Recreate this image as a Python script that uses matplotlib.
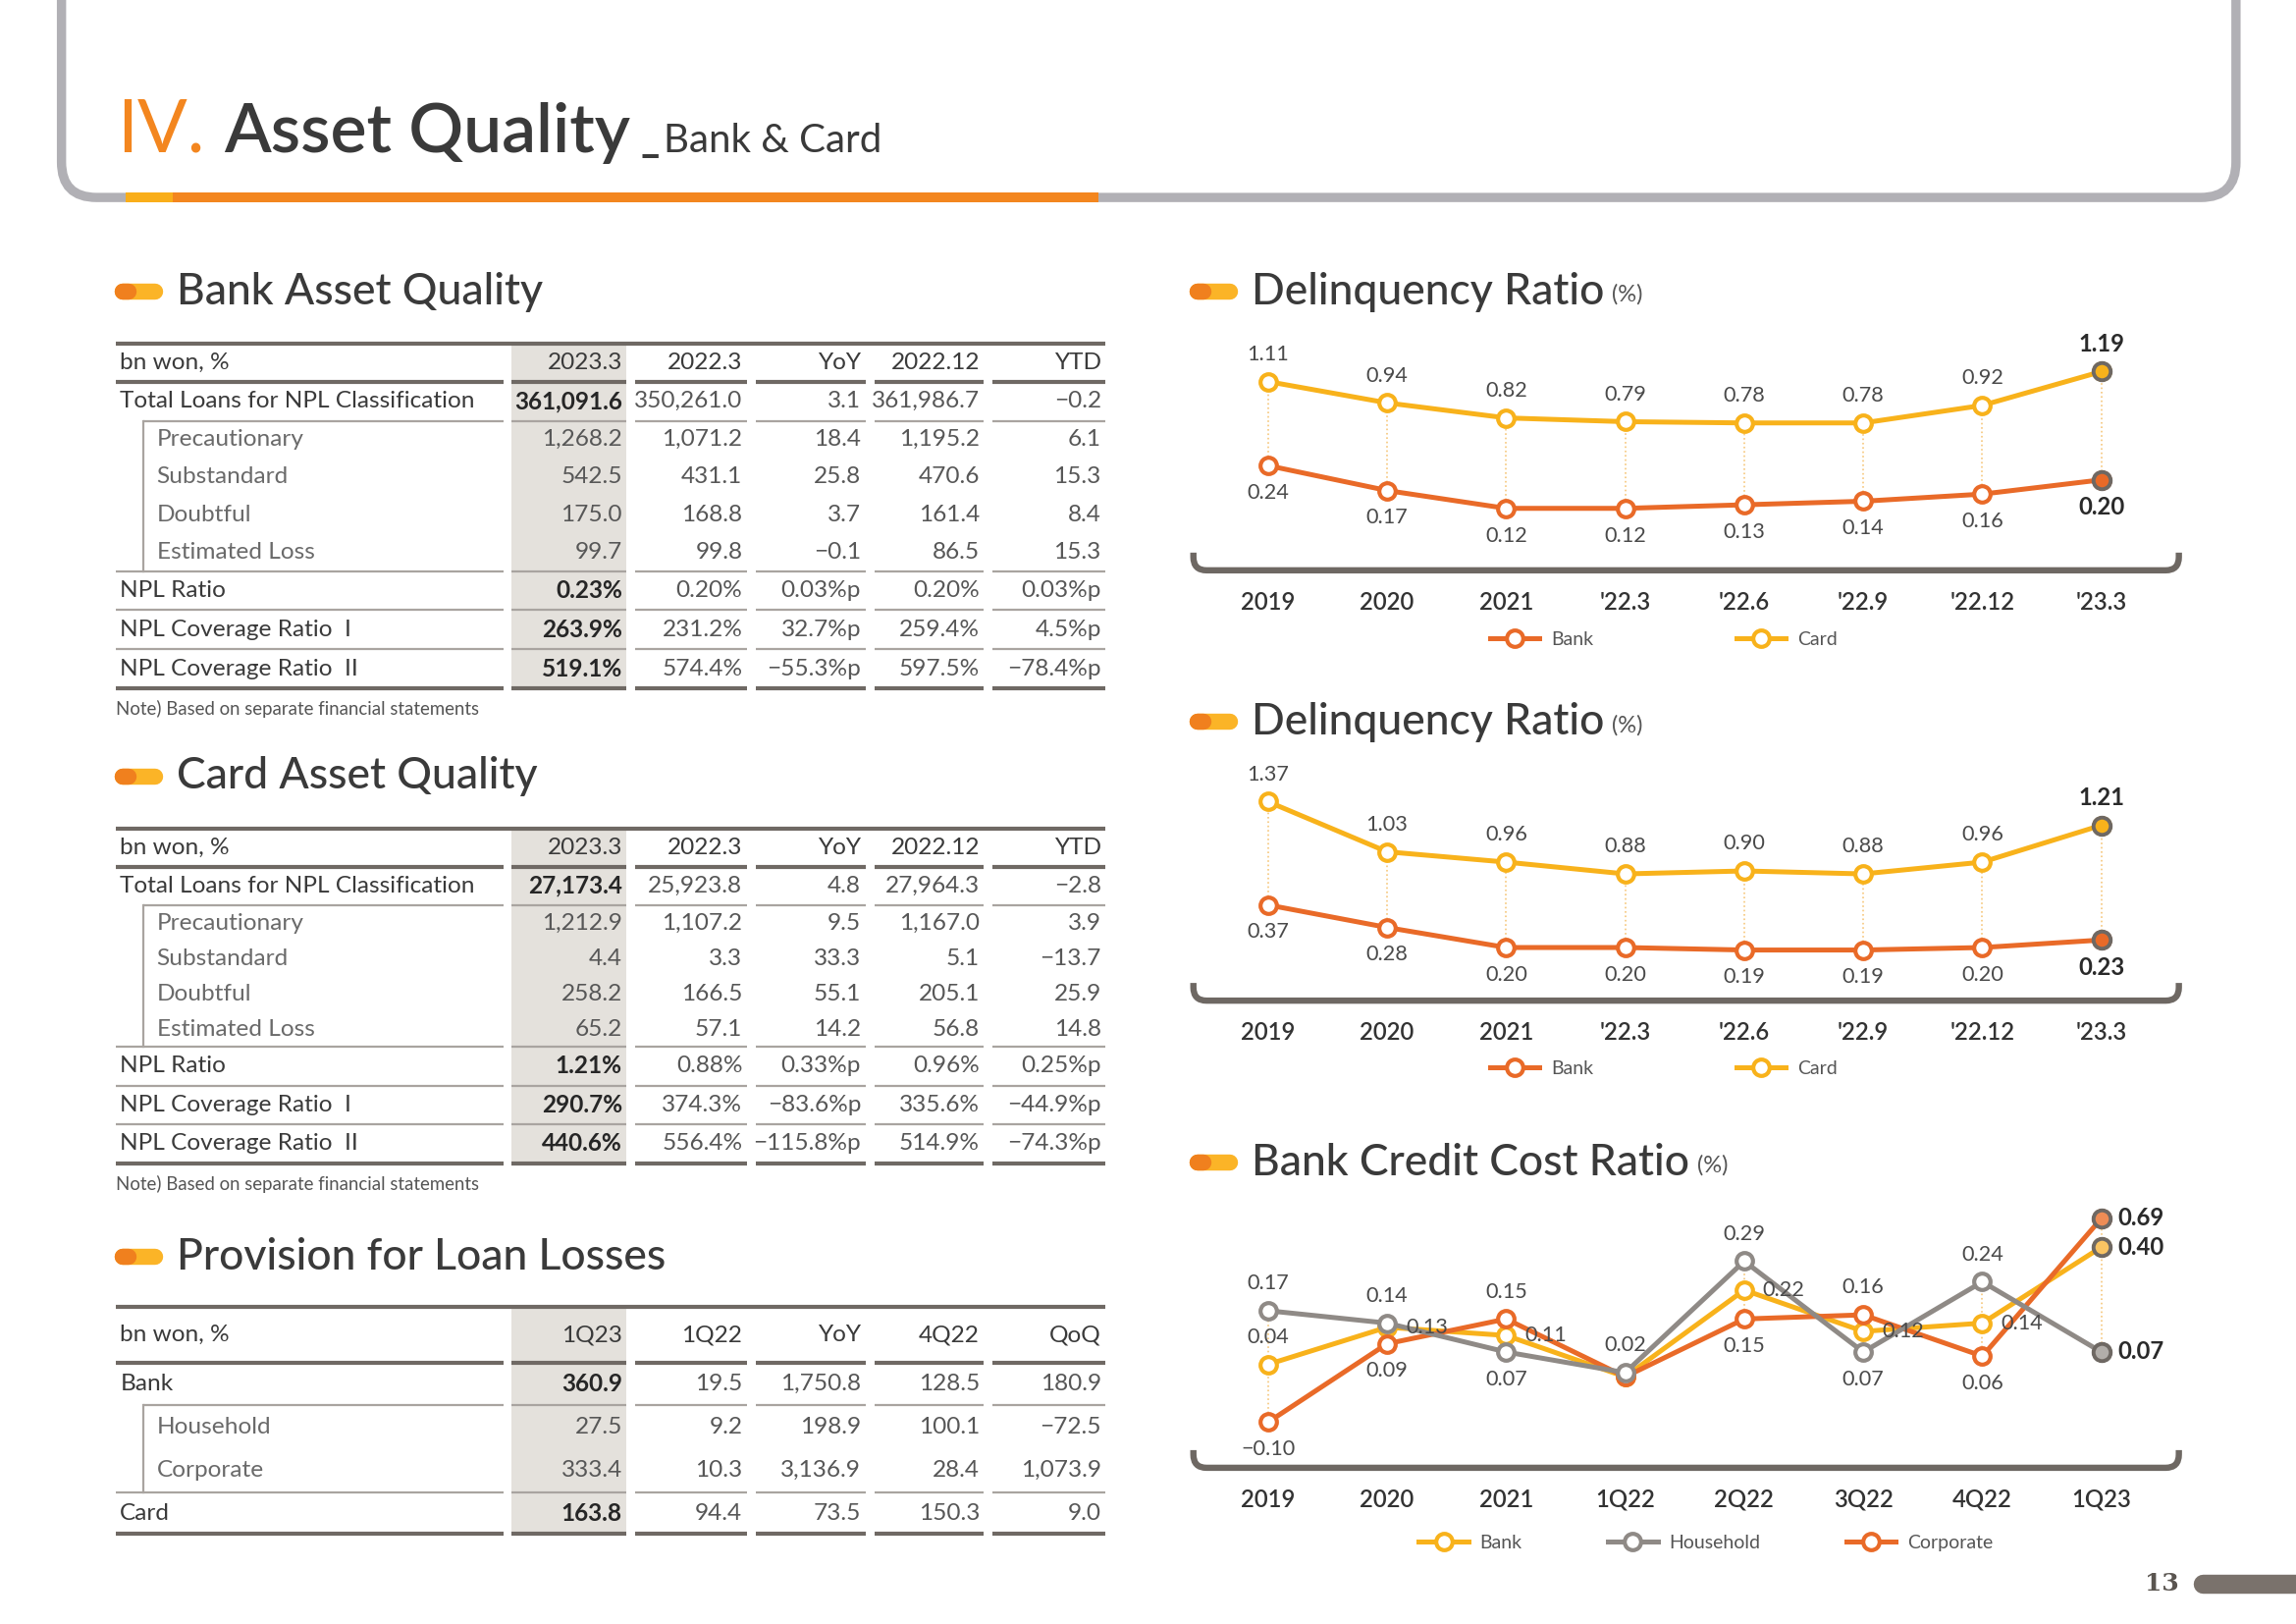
import numpy as np
import matplotlib
matplotlib.use('Agg')
import matplotlib.pyplot as plt
from matplotlib.path import Path
from matplotlib.patches import PathPatch, Rectangle

plt.rcParams['font.family'] = ['Lato', 'DejaVu Sans']

# ---------------- data ----------------
tbl_head_bank = ['bn won, %', '2023.3', '2022.3', 'YoY', '2022.12', 'YTD']
npl_labels = ['Total Loans for NPL Classification', 'Precautionary', 'Substandard', 'Doubtful',
              'Estimated Loss', 'NPL Ratio', 'NPL Coverage Ratio  I', 'NPL Coverage Ratio  II']
npl_kinds = ['main', 'sub', 'sub', 'sub', 'sub', 'main', 'main', 'main']

bank_2023_3 = ['361,091.6', '1,268.2', '542.5', '175.0', '99.7', '0.23%', '263.9%', '519.1%']
bank_2022_3 = ['350,261.0', '1,071.2', '431.1', '168.8', '99.8', '0.20%', '231.2%', '574.4%']
bank_yoy = ['3.1', '18.4', '25.8', '3.7', '\u22120.1', '0.03%p', '32.7%p', '\u221255.3%p']
bank_2022_12 = ['361,986.7', '1,195.2', '470.6', '161.4', '86.5', '0.20%', '259.4%', '597.5%']
bank_ytd = ['\u22120.2', '6.1', '15.3', '8.4', '15.3', '0.03%p', '4.5%p', '\u221278.4%p']

card_2023_3 = ['27,173.4', '1,212.9', '4.4', '258.2', '65.2', '1.21%', '290.7%', '440.6%']
card_2022_3 = ['25,923.8', '1,107.2', '3.3', '166.5', '57.1', '0.88%', '374.3%', '556.4%']
card_yoy = ['4.8', '9.5', '33.3', '55.1', '14.2', '0.33%p', '\u221283.6%p', '\u2212115.8%p']
card_2022_12 = ['27,964.3', '1,167.0', '5.1', '205.1', '56.8', '0.96%', '335.6%', '514.9%']
card_ytd = ['\u22122.8', '3.9', '\u221213.7', '25.9', '14.8', '0.25%p', '\u221244.9%p', '\u221274.3%p']

tbl_head_prov = ['bn won, %', '1Q23', '1Q22', 'YoY', '4Q22', 'QoQ']
prov_labels = ['Bank', 'Household', 'Corporate', 'Card']
prov_kinds = ['main', 'sub', 'sub', 'main']
prov_1q23 = ['360.9', '27.5', '333.4', '163.8']
prov_1q22 = ['19.5', '9.2', '10.3', '94.4']
prov_yoy = ['1,750.8', '198.9', '3,136.9', '73.5']
prov_4q22 = ['128.5', '100.1', '28.4', '150.3']
prov_qoq = ['180.9', '\u221272.5', '1,073.9', '9.0']

delinq_periods = ['2019', '2020', '2021', "'22.3", "'22.6", "'22.9", "'22.12", "'23.3"]
delinq1_bank = [0.24, 0.17, 0.12, 0.12, 0.13, 0.14, 0.16, 0.20]
delinq1_card = [1.11, 0.94, 0.82, 0.79, 0.78, 0.78, 0.92, 1.19]
delinq2_bank = [0.37, 0.28, 0.20, 0.20, 0.19, 0.19, 0.20, 0.23]
delinq2_card = [1.37, 1.03, 0.96, 0.88, 0.90, 0.88, 0.96, 1.21]

cc_periods = ['2019', '2020', '2021', '1Q22', '2Q22', '3Q22', '4Q22', '1Q23']
cc_bank = [0.04, 0.13, 0.11, 0.01, 0.22, 0.12, 0.14, 0.40]
cc_household = [0.17, 0.14, 0.07, 0.02, 0.29, 0.07, 0.24, 0.07]
cc_corporate = [-0.10, 0.09, 0.15, 0.01, 0.15, 0.16, 0.06, 0.69]

# ---------------- styling ----------------
ORANGE = '#F3861F'
LINE_OR = '#E96A28'
YELLOW = '#F8B21B'
HH_GRAY = '#8F8A86'
DARK = '#3A3A3A'
RULE_DARK = '#6F6964'
RULE_LIGHT = '#A9A4A0'
SHADE = '#E4E1DC'
EDGE = '#6E6863'

W, H = 1568, 1102           # layout grid (reference screen units)
PT = 2339 / W * 72 / 200    # points per layout unit

fig = plt.figure(figsize=(2339 / 200, 1654 / 200), dpi=200)
base = fig.add_axes([0, 0, 1, 1])
base.set_xlim(0, W)
base.set_ylim(H, 0)
base.axis('off')
renderer = fig.canvas.get_renderer()


def right_edge(t):
    bb = t.get_window_extent(renderer)
    return base.transData.inverted().transform((bb.x1, bb.y0))[0]


# ---------------- page header ----------------
frame = Path([(42, 0), (42, 110), (42, 134), (66, 134), (1503, 134), (1527, 134), (1527, 110), (1527, 0)],
             [Path.MOVETO, Path.LINETO, Path.CURVE3, Path.CURVE3, Path.LINETO,
              Path.CURVE3, Path.CURVE3, Path.LINETO])
base.add_patch(PathPatch(frame, fill=False, lw=3.4, ec='#B1B0B5'))
base.plot([118, 750], [134, 134], color=ORANGE, lw=3.6, solid_capstyle='butt')
base.plot([86, 118], [134, 134], color='#F9AE1A', lw=3.6, solid_capstyle='butt')

t = base.text(80, 103, 'IV.', fontsize=27, color=ORANGE, va='baseline')
t = base.text(right_edge(t) + 13, 103, 'Asset Quality', fontsize=25, color=DARK,
              va='baseline', fontweight='semibold')
t = base.text(right_edge(t) + 7, 103, '_', fontsize=15, color=DARK, va='baseline', fontweight='bold')
base.text(right_edge(t) + 3, 103, 'Bank & Card', fontsize=14.5, color=DARK, va='baseline')

# page number
base.text(1488, 1075, '13', fontsize=9, color='#5a5550', fontweight='bold', ha='right', va='center',
          family='DejaVu Serif')
base.plot([1504, 1580], [1075, 1075], color='#7A726C', lw=7, solid_capstyle='round')


def section_title(x, y, text, unit=None):
    base.plot([x + 5, x + 27], [y, y], lw=11 * PT, color='#FBB427', solid_capstyle='round')
    base.plot([x + 5, x + 9], [y, y], lw=11 * PT, color='#F0801E', solid_capstyle='round')
    tt = base.text(x + 42, y, text, fontsize=16, color=DARK, va='center', fontweight='medium')
    if unit:
        base.text(right_edge(tt) + 5, y + 2, unit, fontsize=8.5, color='#555555', va='center')


# ---------------- tables ----------------
COL_X = [(79, 344), (349, 428), (434, 510), (516, 591), (597, 672), (678, 755)]
BRACKET_X = 98
FS = 8.8


def seg_rule(y, lw, color, start=None):
    for j, (a, b) in enumerate(COL_X):
        if j == 0 and start is not None:
            a = start
        base.plot([a, b], [y, y], color=color, lw=lw, solid_capstyle='butt', zorder=2)


def draw_table(top, head_h, main_h, sub_h, header, labels, kinds, columns):
    heights = [main_h if k == 'main' else sub_h for k in kinds]
    edges = top + head_h + np.concatenate([[0], np.cumsum(heights)])
    bottom = edges[-1]
    base.add_patch(Rectangle((COL_X[1][0], top), COL_X[1][1] - COL_X[1][0], bottom - top,
                             color=SHADE, lw=0, zorder=0))
    base.plot([COL_X[0][0], COL_X[-1][1]], [top, top], color=RULE_DARK, lw=1.5,
              solid_capstyle='butt', zorder=2)
    seg_rule(top + head_h, 1.5, RULE_DARK)

    yh = top + head_h / 2
    base.text(82, yh, header[0], fontsize=FS, color=DARK, va='center')
    for j, h in enumerate(header[1:]):
        base.text(COL_X[j + 1][1] - 3, yh, h, fontsize=FS, color=DARK, va='center', ha='right')

    n = len(labels)
    for i, (lab, kind) in enumerate(zip(labels, kinds)):
        yc = (edges[i] + edges[i + 1]) / 2
        if kind == 'main':
            base.text(82, yc, lab, fontsize=FS, color=DARK, va='center')
        else:
            base.text(107, yc, lab, fontsize=FS, color='#6a6a6a', va='center')
        for j, col in enumerate(columns):
            bold = (j == 0 and kind == 'main')
            base.text(COL_X[j + 1][1] - 3, yc, col[i], fontsize=FS, ha='right', va='center',
                      color='#262626' if bold else '#575757',
                      fontweight='bold' if bold else 'normal')
        if i < n - 1:
            nxt = kinds[i + 1]
            if kind == 'main' and nxt == 'sub':
                seg_rule(edges[i + 1], 0.8, RULE_LIGHT, start=BRACKET_X)
            elif kind == 'sub' and nxt == 'sub':
                pass
            else:
                seg_rule(edges[i + 1], 0.8, RULE_LIGHT)
    seg_rule(bottom, 1.5, RULE_DARK)

    # indent bracket for the sub rows
    i = 0
    while i < n:
        if kinds[i] == 'sub':
            s = i
            while i < n and kinds[i] == 'sub':
                i += 1
            base.plot([BRACKET_X, BRACKET_X], [edges[s], edges[i]], color=RULE_LIGHT, lw=0.8)
        else:
            i += 1
    return bottom


section_title(79, 198, 'Bank Asset Quality')
b = draw_table(233, 26, 26.5, 25.5, tbl_head_bank, npl_labels, npl_kinds,
               [bank_2023_3, bank_2022_3, bank_yoy, bank_2022_12, bank_ytd])
base.text(79, b + 14, 'Note) Based on separate financial statements', fontsize=6.7, color='#555555', va='center')

section_title(79, 527, 'Card Asset Quality')
b = draw_table(562, 26, 26.3, 24, tbl_head_bank, npl_labels, npl_kinds,
               [card_2023_3, card_2022_3, card_yoy, card_2022_12, card_ytd])
base.text(79, b + 14, 'Note) Based on separate financial statements', fontsize=6.7, color='#555555', va='center')

section_title(79, 853, 'Provision for Loan Losses')
draw_table(887, 38, 28.5, 29.5, tbl_head_prov, prov_labels, prov_kinds,
           [prov_1q23, prov_1q22, prov_yoy, prov_4q22, prov_qoq])

# ---------------- charts ----------------
CX0, CX1 = 815, 1488
XFIRST, XSTEP = 866, 81.3
OFFS = {'a': (0, 10, 'center'), 'b': (0, -10, 'center'), 'r': (14.5, 0, 'center'), 'R': (6, 0, 'left')}


def chart_axes(y0, y1):
    ax = fig.add_axes([CX0 / W, 1 - y1 / H, (CX1 - CX0) / W, (y1 - y0) / H])
    ax.set_xlim((CX0 - XFIRST) / XSTEP, (CX1 - XFIRST) / XSTEP)
    ax.patch.set_visible(False)
    for s in ax.spines.values():
        s.set_visible(False)
    return ax


def bracket(y, h=12, r=9):
    verts = [(CX0, y - h), (CX0, y - r), (CX0, y), (CX0 + r, y), (CX1 - r, y), (CX1, y), (CX1, y - r), (CX1, y - h)]
    codes = [Path.MOVETO, Path.LINETO, Path.CURVE3, Path.CURVE3, Path.LINETO, Path.CURVE3, Path.CURVE3, Path.LINETO]
    base.add_patch(PathPatch(Path(verts, codes), fill=False, lw=2.3, ec=EDGE))


def series(ax, vals, color, places, last_fill=None, z=3):
    x = np.arange(len(vals))
    line, = ax.plot(x, vals, color=color, lw=1.8, marker='o', ms=6, mfc='white', mec=color, mew=1.5, zorder=z)
    ax.plot(x[-1:], vals[-1:], 'o', ms=6.3, mfc=last_fill or color, mec=EDGE, mew=1.4, zorder=z + 0.5)
    for i, (v, p) in enumerate(zip(vals, places)):
        if p is None:
            continue
        last = i == len(vals) - 1
        dx, dy, ha = OFFS[p]
        ax.annotate(f'{v:.2f}'.replace('-', '\u2212'), (i, v), xytext=(dx, dy), textcoords='offset points',
                    ha=ha, va='center', fontsize=8.6 if last else 7.8,
                    fontweight='bold' if last else 'normal',
                    color='#2a2a2a' if last else '#4a4a4a', zorder=6)
    return line


def xaxis_labels(ax, labels):
    ax.set_xticks(np.arange(len(labels)))
    ax.set_xticklabels(labels, fontsize=8.6, color='#333333', fontweight='semibold')
    ax.tick_params(axis='x', length=0, pad=7)
    ax.tick_params(axis='y', left=False, labelleft=False)


def delinquency_chart(y0, y1, bank, card, bank_lim, card_lim, leg_y):
    ax = chart_axes(y0, y1)
    axc = ax.twinx()
    axc.patch.set_visible(False)
    for s in axc.spines.values():
        s.set_visible(False)
    axc.tick_params(axis='y', right=False, labelright=False)
    ax.set_ylim(*bank_lim)
    axc.set_ylim(*card_lim)
    x = np.arange(len(bank))
    # dotted guides between the two series
    card_on_bank = ax.transData.inverted().transform(axc.transData.transform(np.column_stack([x, card])))[:, 1]
    ax.vlines(x, bank, card_on_bank, colors='#F6C77C', linestyles=':', lw=0.6, zorder=1)
    lb = series(ax, bank, LINE_OR, ['b'] * len(bank))
    lc = series(axc, card, YELLOW, ['a'] * len(card))
    xaxis_labels(ax, delinq_periods)
    axc.legend([lb, lc], ['Bank', 'Card'], loc='center', bbox_to_anchor=(0.477, -(leg_y - y1) / (y1 - y0)),
               ncol=2, frameon=False, fontsize=7, handlelength=2.6, handletextpad=0.6,
               columnspacing=7.5, labelcolor='#555555')
    bracket(y1 - 1)


section_title(813, 198, 'Delinquency Ratio', '(%)')
delinquency_chart(225, 388, delinq1_bank, delinq1_card, (-0.058, 0.616), (-0.408, 1.509), 434)

section_title(813, 490, 'Delinquency Ratio', '(%)')
delinquency_chart(515, 680, delinq2_bank, delinq2_card, (-0.018, 0.953), (0.01, 1.66), 725)

# credit cost chart: values above 0.3 are drawn on a compressed scale
section_title(813, 789, 'Bank Credit Cost Ratio', '(%)')
ax = chart_axes(815, 997)
K, T = 0.24, 0.3
ax.set_yscale('function', functions=(lambda y: np.where(y <= T, y, T + (y - T) * K),
                                     lambda u: np.where(u <= T, u, T + (u - T) / K)))
ax.set_ylim(-0.214, 0.865)
allv = np.array([cc_bank, cc_household, cc_corporate])
ax.vlines(np.arange(len(cc_bank)), allv.min(axis=0), allv.max(axis=0), colors='#F6C77C',
          linestyles=':', lw=0.6, zorder=1)
l_bank = series(ax, cc_bank, YELLOW, ['a', 'r', 'r', None, 'r', 'r', 'r', 'R'], last_fill='#F9C463', z=3)
l_corp = series(ax, cc_corporate, LINE_OR, ['b', 'b', 'a', None, 'b', 'a', 'b', 'R'], last_fill='#EE8C55', z=3.2)
l_hh = series(ax, cc_household, HH_GRAY, ['a', 'a', 'b', 'a', 'a', 'b', 'a', 'R'], last_fill='#B2AEAA', z=3.4)
xaxis_labels(ax, cc_periods)
ax.legend([l_bank, l_hh, l_corp], ['Bank', 'Household', 'Corporate'], loc='center',
          bbox_to_anchor=(0.52, -50 / 182), ncol=3, frameon=False, fontsize=7, handlelength=2.6,
          handletextpad=0.6, columnspacing=4.5, labelcolor='#555555')
bracket(996)

fig.savefig('out.png', dpi=200)
